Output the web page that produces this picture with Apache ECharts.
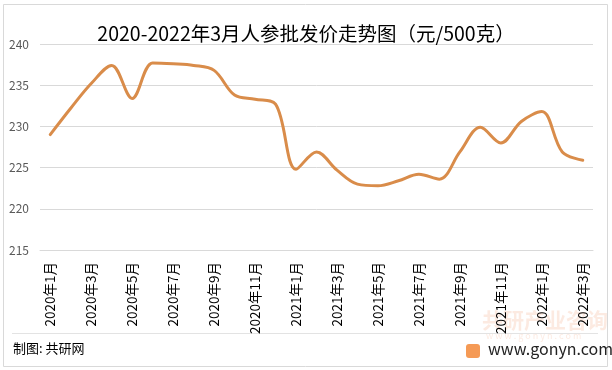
<!DOCTYPE html>
<html><head><meta charset="utf-8">
<script src="https://cdn.jsdelivr.net/npm/echarts@6/dist/echarts.min.js"></script>
<style>html,body{margin:0;padding:0;background:#fff}#c{width:612px;height:370px}</style>
</head><body><div id="c"></div>
<script>
const categories = ['2020年1月','2020年2月','2020年3月','2020年4月','2020年5月','2020年6月','2020年7月','2020年8月','2020年9月','2020年10月','2020年11月','2020年12月','2021年1月','2021年2月','2021年3月','2021年4月','2021年5月','2021年6月','2021年7月','2021年8月','2021年9月','2021年10月','2021年11月','2021年12月','2022年1月','2022年2月','2022年3月'];
const prices = [229.0,232.2,235.2,237.4,233.4,237.7,237.6,237.4,236.8,233.8,233.3,232.7,224.8,226.9,224.7,223.0,222.8,223.4,224.2,223.6,226.9,229.9,228.0,230.6,231.8,226.9,225.9];
const yTicks = {min:215,max:240,interval:5};
const titleText = '2020-2022年3月人参批发价走势图（元/500克）';
const sourceText = '制图: 共研网';
const siteText = 'www.gonyn.com';
const watermarkText = '共研产业咨询';

const chart = echarts.init(document.getElementById('c'), null, {renderer:'canvas'});
const font = '"Noto Sans CJK SC","Noto Sans",sans-serif';
chart.setOption({
  animation:false,
  backgroundColor:'#fff',
  title:{text:titleText,left:'center',top:19,textStyle:{fontSize:19.5,fontWeight:'normal',color:'#000',fontFamily:font}},
  grid:{left:40,right:19,top:44,bottom:120,containLabel:false},
  xAxis:{type:'category',data:categories,boundaryGap:true,
    axisLine:{show:true,lineStyle:{color:'#d9d9d9'}},axisTick:{show:false},
    axisLabel:{interval:1,rotate:90,fontSize:13.5,color:'#000',fontFamily:font,margin:12}},
  yAxis:{type:'value',min:yTicks.min,max:yTicks.max,interval:yTicks.interval,
    axisLine:{show:false},axisTick:{show:false},
    splitLine:{lineStyle:{color:'#d9d9d9',width:1}},
    axisLabel:{fontSize:12,color:'#595959',fontFamily:font,margin:11}},
  series:[{type:'line',data:prices,smooth:0.35,symbol:'none',
    lineStyle:{color:'#D98C4A',width:3,cap:'round'}}],
  graphic:[
    {type:'rect',shape:{x:3.5,y:4.5,width:604,height:362},style:{fill:'none',stroke:'#d9d9d9',lineWidth:1},silent:true},
    {type:'line',shape:{x1:12,y1:333.5,x2:598,y2:333.5},style:{stroke:'#e3e3e3',lineWidth:1}},
    {type:'text',left:13,top:342,style:{text:sourceText,fontSize:13,fill:'#000',fontFamily:font}},
    {type:'text',left:482,top:310,style:{text:watermarkText,fontSize:21,fontWeight:'bold',fill:'rgba(240,140,90,0.18)',fontFamily:font}},
    {type:'text',left:486,top:331,style:{text:'w w w . g o n y n . c o m',fontSize:9,fill:'rgba(240,140,90,0.18)',fontFamily:font}},
    {type:'rect',shape:{x:466,y:344,width:14,height:14,r:3},style:{fill:'#F59A55'}},
    {type:'text',left:488,top:341,style:{text:siteText,fontSize:16,fill:'#222',fontFamily:font}}
  ]
});
</script></body></html>
